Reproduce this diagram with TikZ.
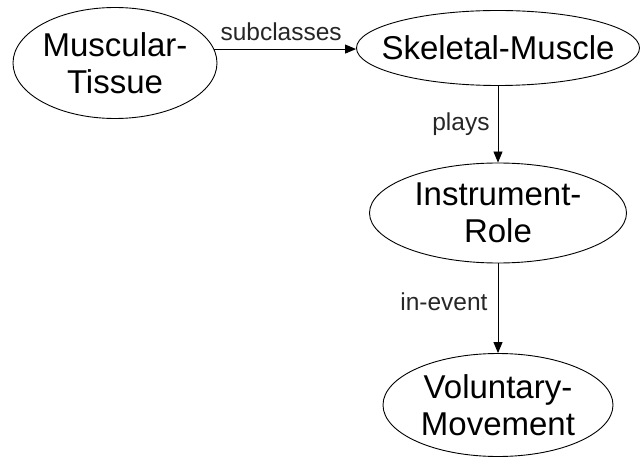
\documentclass[tikz,border=0pt]{standalone}
\usepackage{fontspec}
\setmainfont{Liberation Sans}
\usetikzlibrary{shapes.geometric,arrows.meta}
\begin{document}
\begin{tikzpicture}[x=1pt,y=-1pt,
  concept/.style={ellipse, draw=black, line width=0.9pt, inner sep=0pt},
  ctext/.style={align=center, font=\fontsize{33}{37}\selectfont, inner sep=0pt},
  rel/.style={draw=black, line width=0.9pt, -{Triangle[length=11pt,width=9pt]}},
  rellabel/.style={font=\fontsize{24.5}{28}\selectfont, inner sep=0pt, text=black!85}]
  \useasboundingbox (0,0) rectangle (642,457);

  % concepts
  \node[concept, minimum width=204pt, minimum height=111pt] (mt) at (115,63) {};
  \node[ctext] (mt-t) at (mt.center) {Muscular-\\Tissue};
  \node[concept, minimum width=283pt, minimum height=75pt] (sm) at (498,48) {};
  \node[ctext] (sm-t) at (sm.center) {Skeletal-Muscle};
  \node[concept, minimum width=257pt, minimum height=100pt] (ir) at (498,213) {};
  \node[ctext] (ir-t) at (ir.center) {Instrument-\\Role};
  \node[concept, minimum width=230pt, minimum height=103pt] (vm) at (498,405) {};
  \node[ctext] (vm-t) at (vm.center) {Voluntary-\\Movement};

  % relations
  \draw[rel] (mt.8.7) -- (mt.8.7 -| sm.west)
    node[rellabel, midway, above=8pt, xshift=-4pt] (l1) {subclasses};
  \draw[rel] (sm.south) -- (ir.north)
    node[rellabel, midway, left=8pt] (l2) {plays};
  \draw[rel] (ir.south) -- (vm.north)
    node[rellabel, midway, left=10pt, yshift=7pt] (l3) {in-event};
\end{tikzpicture}
\end{document}
